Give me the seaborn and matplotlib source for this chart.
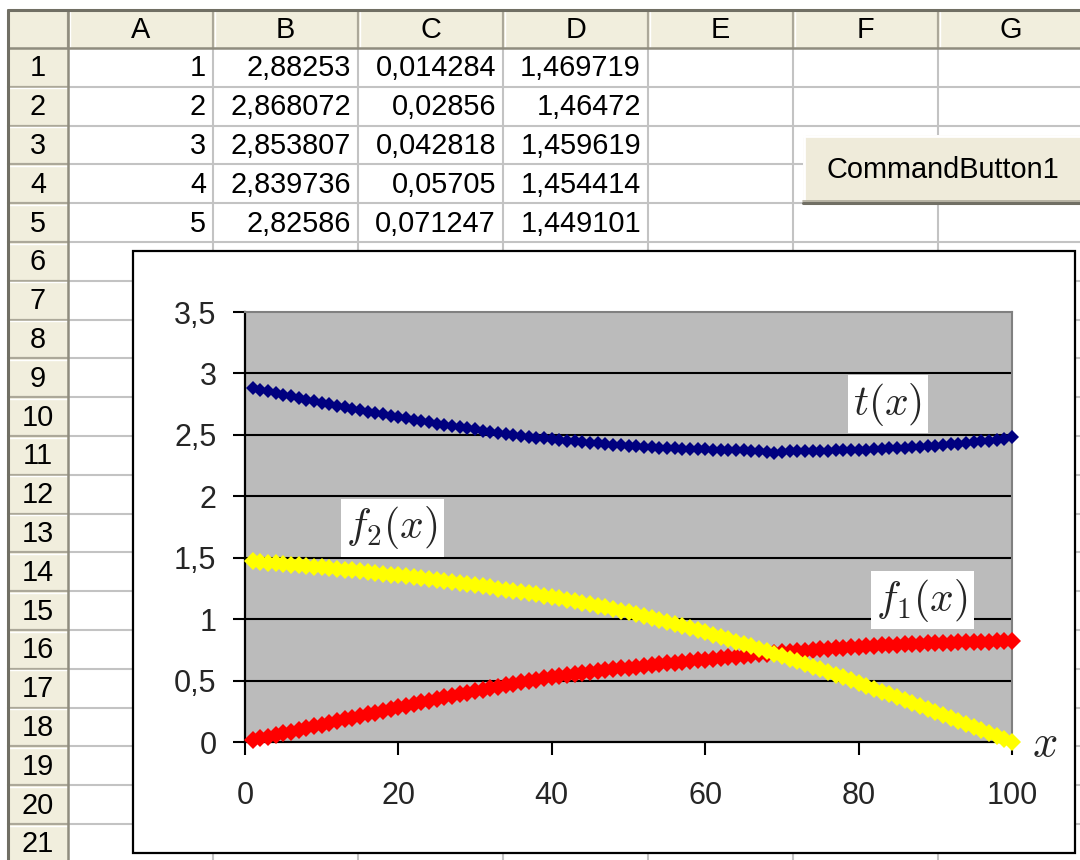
import matplotlib
matplotlib.use("Agg")
import matplotlib.pyplot as plt
import seaborn as sns
from matplotlib.patches import Rectangle

sns.set_theme(style="white")
plt.rcParams['font.family'] = ['Liberation Sans', 'DejaVu Sans']
plt.rcParams['mathtext.fontset'] = 'cm'

# ---------------- data ----------------
x_vals = list(range(1, 101))

t_vals = [2.883, 2.868, 2.854, 2.840, 2.826, 2.813, 2.800, 2.787, 2.775, 2.762,
          2.750, 2.738, 2.726, 2.714, 2.702, 2.690, 2.679, 2.667, 2.656, 2.645,
          2.634, 2.623, 2.612, 2.602, 2.592, 2.582, 2.572, 2.562, 2.553, 2.544,
          2.535, 2.526, 2.517, 2.509, 2.501, 2.493, 2.485, 2.478, 2.471, 2.464,
          2.458, 2.452, 2.446, 2.440, 2.435, 2.430, 2.425, 2.420, 2.416, 2.412,
          2.408, 2.404, 2.400, 2.397, 2.394, 2.391, 2.388, 2.385, 2.383, 2.381,
          2.379, 2.377, 2.375, 2.374, 2.373, 2.372, 2.371, 2.362, 2.352, 2.360,
          2.369, 2.369, 2.370, 2.370, 2.371, 2.372, 2.373, 2.374, 2.376, 2.378,
          2.380, 2.383, 2.386, 2.389, 2.392, 2.395, 2.399, 2.403, 2.407, 2.412,
          2.417, 2.422, 2.428, 2.434, 2.440, 2.447, 2.454, 2.462, 2.470, 2.485]

f1_vals = [0.0143, 0.0286, 0.0428, 0.0571, 0.0712, 0.0854, 0.0995, 0.1136, 0.1277, 0.1418,
           0.1558, 0.1698, 0.1838, 0.1978, 0.2118, 0.2257, 0.2396, 0.2535, 0.2674, 0.2812,
           0.2950, 0.3086, 0.3222, 0.3357, 0.3491, 0.3624, 0.3756, 0.3887, 0.4016, 0.4144,
           0.4268, 0.4390, 0.4510, 0.4628, 0.4743, 0.4856, 0.4966, 0.5073, 0.5177, 0.5278,
           0.5368, 0.5455, 0.5539, 0.5620, 0.5698, 0.5773, 0.5846, 0.5917, 0.5986, 0.6053,
           0.6122, 0.6190, 0.6257, 0.6324, 0.6390, 0.6455, 0.6520, 0.6584, 0.6647, 0.6710,
           0.6772, 0.6833, 0.6893, 0.6952, 0.7010, 0.7067, 0.7123, 0.7178, 0.7232, 0.7285,
           0.7337, 0.7388, 0.7438, 0.7487, 0.7535, 0.7582, 0.7627, 0.7671, 0.7714, 0.7756,
           0.7795, 0.7832, 0.7867, 0.7900, 0.7931, 0.7960, 0.7987, 0.8012, 0.8035, 0.8056,
           0.8076, 0.8095, 0.8113, 0.8130, 0.8146, 0.8161, 0.8175, 0.8188, 0.8200, 0.8211]

f2_vals = [1.4697, 1.4647, 1.4596, 1.4544, 1.4491, 1.4437, 1.4382, 1.4326, 1.4269, 1.4211,
           1.4151, 1.4090, 1.4028, 1.3964, 1.3899, 1.3833, 1.3765, 1.3696, 1.3625, 1.3553,
           1.3479, 1.3404, 1.3328, 1.3250, 1.3171, 1.3091, 1.3009, 1.2926, 1.2842, 1.2757,
           1.2670, 1.2582, 1.2492, 1.2400, 1.2307, 1.2212, 1.2115, 1.2016, 1.1915, 1.1812,
           1.1697, 1.1580, 1.1461, 1.1339, 1.1214, 1.1087, 1.0957, 1.0824, 1.0688, 1.0549,
           1.0399, 1.0246, 1.0090, 0.9931, 0.9769, 0.9604, 0.9436, 0.9265, 0.9091, 0.8914,
           0.8732, 0.8548, 0.8362, 0.8173, 0.7982, 0.7789, 0.7593, 0.7395, 0.7195, 0.6992,
           0.6782, 0.6570, 0.6356, 0.6140, 0.5922, 0.5702, 0.5480, 0.5256, 0.5030, 0.4802,
           0.4570, 0.4337, 0.4103, 0.3868, 0.3632, 0.3395, 0.3157, 0.2918, 0.2679, 0.2440,
           0.2200, 0.1959, 0.1717, 0.1474, 0.1230, 0.0985, 0.0740, 0.0494, 0.0247, 0.0000]

col_letters = ['A', 'B', 'C', 'D', 'E', 'F', 'G']
row_numbers = [str(i) for i in range(1, 22)]
table_A = ['1', '2', '3', '4', '5']
table_B = ['2,88253', '2,868072', '2,853807', '2,839736', '2,82586']
table_C = ['0,014284', '0,02856', '0,042818', '0,05705', '0,071247']
table_D = ['1,469719', '1,46472', '1,459619', '1,454414', '1,449101']
y_ticks = [0, 0.5, 1, 1.5, 2, 2.5, 3, 3.5]
y_tick_labels = ['0', '0,5', '1', '1,5', '2', '2,5', '3', '3,5']
x_ticks = [0, 20, 40, 60, 80, 100]
x_tick_labels = ['0', '20', '40', '60', '80', '100']
button_text = 'CommandButton1'

# ---------------- layout (pixels) ----------------
W, H = 1080, 860
HDR_TOP, HDR_BOT = 10, 48
ROW_H = 38.8
LEFT = 8
RH_RIGHT = 68
COL_W = 145
HDR_COLOR = '#F1EEDD'
GRID_COLOR = '#C3C3C3'
HDR_LINE = '#ACA899'
CELL_FS = 20.8

fig = plt.figure(figsize=(W / 100, H / 100), dpi=100)
fig.patch.set_facecolor('white')
bg = fig.add_axes([0, 0, 1, 1])
bg.set_xlim(0, W)
bg.set_ylim(H, 0)
bg.axis('off')

col_edges = [RH_RIGHT + i * COL_W for i in range(len(col_letters) + 1)]
row_edges = [HDR_BOT + i * ROW_H for i in range(len(row_numbers) + 1)]

# header row & row-header column
bg.add_patch(Rectangle((LEFT, HDR_TOP), W - LEFT, HDR_BOT - HDR_TOP,
                       facecolor=HDR_COLOR, edgecolor='none', zorder=1))
bg.add_patch(Rectangle((LEFT, HDR_BOT), RH_RIGHT - LEFT, H - HDR_BOT,
                       facecolor=HDR_COLOR, edgecolor='none', zorder=1))

# cell grid
for xe in col_edges[1:]:
    bg.plot([xe, xe], [HDR_BOT, H], color=GRID_COLOR, lw=1.5, zorder=2)
for ye in row_edges[1:]:
    bg.plot([RH_RIGHT, W], [ye, ye], color=GRID_COLOR, lw=1.5, zorder=2)

# header separators
for xe in col_edges:
    bg.plot([xe, xe], [HDR_TOP + 2, HDR_BOT], color=HDR_LINE, lw=1.6, zorder=3)
    bg.plot([xe + 1.5, xe + 1.5], [HDR_TOP + 2, HDR_BOT], color='white', lw=1.0, zorder=3)
for ye in row_edges[1:]:
    bg.plot([LEFT, RH_RIGHT], [ye, ye], color=HDR_LINE, lw=1.6, zorder=3)
    bg.plot([LEFT, RH_RIGHT], [ye + 1.5, ye + 1.5], color='white', lw=1.0, zorder=3)
bg.plot([LEFT, W], [HDR_BOT, HDR_BOT], color='#8F8C7E', lw=1.8, zorder=3)
bg.plot([RH_RIGHT, RH_RIGHT], [HDR_TOP, H], color='#8F8C7E', lw=1.8, zorder=3)
bg.plot([LEFT, W], [HDR_TOP, HDR_TOP], color='#716F64', lw=2.2, zorder=3)
bg.plot([LEFT, LEFT], [HDR_TOP, H], color='#716F64', lw=2.2, zorder=3)

# header texts
for i, letter in enumerate(col_letters):
    cx = (col_edges[i] + col_edges[i + 1]) / 2
    bg.text(cx, (HDR_TOP + HDR_BOT) / 2 + 1, letter, ha='center', va='center',
            fontsize=CELL_FS, color='black', zorder=4)
for i, rn in enumerate(row_numbers):
    cy = (row_edges[i] + row_edges[i + 1]) / 2 + 1
    bg.text((LEFT + RH_RIGHT) / 2, cy, rn, ha='center', va='center',
            fontsize=CELL_FS, color='black', zorder=4)

# table values
for c, column in enumerate([table_A, table_B, table_C, table_D]):
    right = col_edges[c + 1] - 7
    for r, val in enumerate(column):
        cy = (row_edges[r] + row_edges[r + 1]) / 2 + 1
        bg.text(right, cy, val, ha='right', va='center', fontsize=CELL_FS,
                color='black', zorder=4)

# command button
bx0, by0, bx1, by1 = 803, 135, 1082, 203
bg.add_patch(Rectangle((bx0, by0), bx1 - bx0, by1 - by0, facecolor='#EFEBDA',
                       edgecolor='none', zorder=5))
bg.plot([bx0, bx1], [by0 + 1, by0 + 1], color='white', lw=2, zorder=6)
bg.plot([bx0 + 1, bx0 + 1], [by0, by1], color='white', lw=2, zorder=6)
bg.plot([bx0, bx1], [by1, by1], color='#716F64', lw=2.2, zorder=6)
bg.plot([bx0, bx1], [by1 - 2, by1 - 2], color='#ACA899', lw=1.2, zorder=6)
bg.text((bx0 + bx1) / 2, (by0 + by1) / 2 + 1, button_text, ha='center', va='center',
        fontsize=CELL_FS, color='black', zorder=7)

# chart frame
cx0, cy0, cx1, cy1 = 133, 251, 1075, 853
bg.add_patch(Rectangle((cx0, cy0), cx1 - cx0, cy1 - cy0, facecolor='white',
                       edgecolor='black', lw=1.6, zorder=8))

# ---------------- chart ----------------
PL, PR, PT, PB = 245, 1012, 312, 742
ax = fig.add_axes([PL / W, (H - PB) / H, (PR - PL) / W, (PB - PT) / H])
ax.set_facecolor('#BBBBBB')

sns.lineplot(x=x_vals, y=t_vals, ax=ax, color='#000080', marker='D', markersize=7,
             markeredgewidth=0, linewidth=2.6, clip_on=False, zorder=5)
sns.lineplot(x=x_vals, y=f1_vals, ax=ax, color='#FF0000', marker='D', markersize=9.5,
             markeredgewidth=0, linewidth=3.5, clip_on=False, zorder=5)
sns.lineplot(x=x_vals, y=f2_vals, ax=ax, color='#FFFF00', marker='D', markersize=9.5,
             markeredgewidth=0, linewidth=3.5, clip_on=False, zorder=6)

ax.set_xlim(0, 100)
ax.set_ylim(0, 3.5)
ax.set_xticks(x_ticks)
ax.set_xticklabels(x_tick_labels)
ax.set_yticks(y_ticks)
ax.set_yticklabels(y_tick_labels)
ax.set_xlabel('')
ax.set_ylabel('')

ax.yaxis.grid(True, color='black', lw=1.5, zorder=1)
ax.xaxis.grid(False)
ax.set_axisbelow(True)
for gl, v in zip(ax.yaxis.get_gridlines(), y_ticks):
    if v in (0, 3.5):
        gl.set_visible(False)

for side in ('left', 'bottom'):
    ax.spines[side].set_color('black')
    ax.spines[side].set_linewidth(1.6)
for side in ('top', 'right'):
    ax.spines[side].set_color('#808080')
    ax.spines[side].set_linewidth(1.5)

ax.tick_params(axis='y', direction='out', length=8.6, width=1.5, color='black',
               labelsize=22, pad=12, left=True)
ax.tick_params(axis='x', direction='out', length=9.4, width=1.5, color='black',
               labelsize=22, pad=19, bottom=True)

box = dict(facecolor='white', edgecolor='none', pad=4)
ax.text(83.8, 2.75, r'$t(x)$', fontsize=30, ha='center', va='center', bbox=box, zorder=10)
ax.text(19.2, 1.745, r'$f_2(x)$', fontsize=30, ha='center', va='center', bbox=box, zorder=10)
ax.text(88.3, 1.155, r'$f_1(x)$', fontsize=30, ha='center', va='center', bbox=box, zorder=10)
ax.text(104.3, -0.02, r'$x$', fontsize=32, ha='center', va='center', clip_on=False, zorder=10)

fig.savefig('out.png', dpi=100)
